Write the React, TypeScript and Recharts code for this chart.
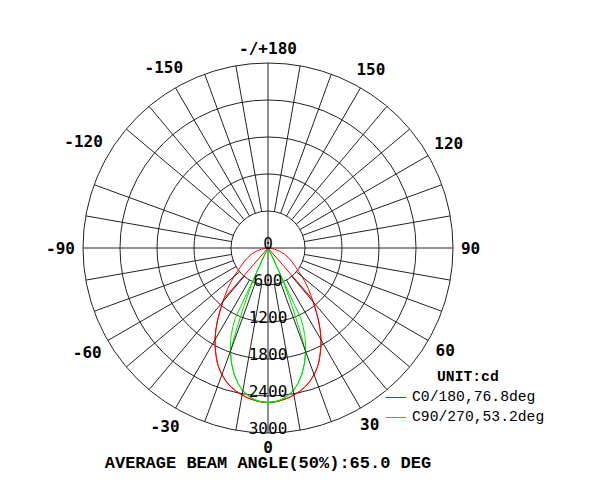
import React from "react";
import {
  RadarChart,
  Radar,
  PolarGrid,
  PolarAngleAxis,
  PolarRadiusAxis,
} from "recharts";

// Polar candela diagram, 0 deg pointing down, values in cd

const CX = 268;
const CY = 248;
const OUTER = 185;

const ANGLE_TICKS = [-150, -120, -90, -60, -30, 0, 30, 60, 90, 120, 150, 180];
const SPOKES = [
  -170, -160, -150, -140, -130, -110, -100, -80, -70, -60, -50, -40, -30, -20, -10,
  10, 20, 30, 40, 50, 60, 70, 80, 100, 110, 120, 130, 140, 150, 160, 170,
];
const RINGS = [0, 600, 1200, 1800, 2400, 3000];

// half-curve gamma angles (mirrored to the other side)
const HALF_ANGLES = [
  0, 2.5, 5, 7.5, 10, 12.5, 15, 17.5, 20, 21, 22, 22.5, 23, 24, 25, 25.5, 26, 27, 28,
  30, 32.5, 35, 37.5, 40, 41, 41.5, 42.5, 45, 47.5, 50, 55, 60, 65, 70, 75, 80, 85, 90,
];
// C0 and C180 planes (red)
const RED_C0 = [
  2505, 2500, 2480, 2455, 2420, 2380, 2330, 2265, 2185, 2150, 2110, 2090, 2070, 2025,
  1975, 1950, 1925, 1875, 1825, 1720, 1575, 1425, 1275, 1140, 1090, 1065, 1020, 920,
  815, 720, 560, 450, 360, 280, 190, 110, 45, 0,
];
const RED_C180 = [
  2505, 2500, 2480, 2455, 2420, 2380, 2330, 2265, 2185, 2150, 2110, 2090, 2070, 2025,
  1975, 1950, 1925, 1875, 1825, 1720, 1575, 1425, 1275, 1140, 1080, 0, 0, 0,
  0, 0, 0, 0, 0, 0, 0, 0, 0, 0,
];
// C90 and C270 planes (green)
const GREEN_C90 = [
  2505, 2495, 2470, 2420, 2350, 2250, 2120, 1965, 1785, 1700, 1615, 1565, 1520, 1400,
  1260, 0, 0, 0, 0, 0, 0, 0, 0, 0, 0, 0, 0, 0,
  0, 0, 0, 0, 0, 0, 0, 0, 0, 0,
];
const GREEN_C270 = [
  2505, 2495, 2470, 2420, 2350, 2250, 2120, 1965, 1785, 1450, 1150, 1020, 900, 680,
  480, 400, 320, 180, 80, 0, 0, 0, 0, 0, 0, 0, 0, 0,
  0, 0, 0, 0, 0, 0, 0, 0, 0, 0,
];

const data: Record<string, number>[] = [];
for (let i = HALF_ANGLES.length - 1; i >= 1; i--) {
  data.push({ angle: -HALF_ANGLES[i], r0: RED_C0[i], r180: RED_C180[i], g90: GREEN_C90[i], g270: GREEN_C270[i] });
}
for (let i = 0; i < HALF_ANGLES.length; i++) {
  data.push({ angle: HALF_ANGLES[i], r0: RED_C0[i], r180: RED_C180[i], g90: GREEN_C90[i], g270: GREEN_C270[i] });
}

const GRID = "#222";
const MONO = "'DejaVu Sans Mono', monospace";

function AngleTick(props: any) {
  const v = props.payload.value;
  const label = v === 180 || v === -180 ? "-/+180" : String(v);
  const a = ((v - 90) * Math.PI) / 180;
  const dx = Math.cos(a);
  const dy = -Math.sin(a);
  const w = label.length * 9.63;
  const r = OUTER + 8 + (w / 2) * Math.abs(dx) + 6.5 * Math.abs(dy);
  return (
    <text
      x={CX + r * dx}
      y={CY + r * dy}
      textAnchor="middle"
      dominantBaseline="central"
      fontFamily={MONO}
      fontSize={16}
      fontWeight="bold"
      fill="#000"
    >
      {label}
    </text>
  );
}

function RadiusTick(props: any) {
  const { x, y, payload } = props;
  return (
    <text
      x={x}
      y={y - 5}
      textAnchor="middle"
      dominantBaseline="central"
      fontFamily={MONO}
      fontSize={16}
      fill="#000"
    >
      {payload.value}
    </text>
  );
}

const legendText: React.CSSProperties = {
  position: "absolute",
  fontFamily: "'Liberation Mono', monospace",
  fontSize: 14.7,
  lineHeight: "15px",
  color: "#000",
  whiteSpace: "nowrap",
};

export default function App() {
  return (
    <div style={{ position: "absolute", left: 0, top: 0, width: 600, height: 500, background: "#fff" }}>
      <RadarChart
        width={600}
        height={500}
        data={data}
        cx={CX}
        cy={CY}
        outerRadius={OUTER}
        startAngle={-270}
        endAngle={90}
      >
        <PolarGrid gridType="circle" stroke={GRID} polarAngles={[0, 90, 180, 270]} />
        <PolarAngleAxis
          dataKey="angle"
          type="number"
          domain={[-180, 180]}
          ticks={ANGLE_TICKS}
          tick={<AngleTick />}
          tickLine={false}
          axisLine={false}
        />
        <PolarAngleAxis
          angleAxisId="spokes"
          dataKey="angle"
          type="number"
          domain={[-180, 180]}
          ticks={SPOKES}
          tick={false}
          axisLine={false}
          orientation="inner"
          tickSize={OUTER - 37}
          stroke={GRID}
          tickLine={{ stroke: GRID }}
        />
        <PolarRadiusAxis
          angle={-90}
          type="number"
          domain={[0, 3000]}
          ticks={RINGS}
          tick={<RadiusTick />}
          axisLine={false}
          tickLine={false}
        />
        <Radar dataKey="r0" stroke="#ff0000" fill="none" fillOpacity={0} dot={false} isAnimationActive={false} />
        <Radar dataKey="r180" stroke="#ff0000" fill="none" fillOpacity={0} dot={false} isAnimationActive={false} />
        <Radar dataKey="g90" stroke="#00e000" fill="none" fillOpacity={0} dot={false} isAnimationActive={false} />
        <Radar dataKey="g270" stroke="#00e000" fill="none" fillOpacity={0} dot={false} isAnimationActive={false} />
      </RadarChart>

      <div style={{ ...legendText, left: 437, top: 370, fontWeight: "bold" }}>UNIT:cd</div>
      <div style={{ position: "absolute", left: 386, top: 397, width: 20, height: 1, background: "#ff0000" }} />
      <div style={{ ...legendText, left: 412, top: 390 }}>C0/180,76.8deg</div>
      <div style={{ position: "absolute", left: 386, top: 417, width: 20, height: 1, background: "#00e000" }} />
      <div style={{ ...legendText, left: 412, top: 410 }}>C90/270,53.2deg</div>

      <div
        style={{
          position: "absolute",
          left: 0,
          width: 536,
          top: 455,
          textAlign: "center",
          fontFamily: "'Liberation Mono', monospace",
          fontWeight: "bold",
          fontSize: 17,
          lineHeight: "18px",
          color: "#000",
          whiteSpace: "nowrap",
        }}
      >
        AVERAGE BEAM ANGLE(50%):65.0 DEG
      </div>
    </div>
  );
}
